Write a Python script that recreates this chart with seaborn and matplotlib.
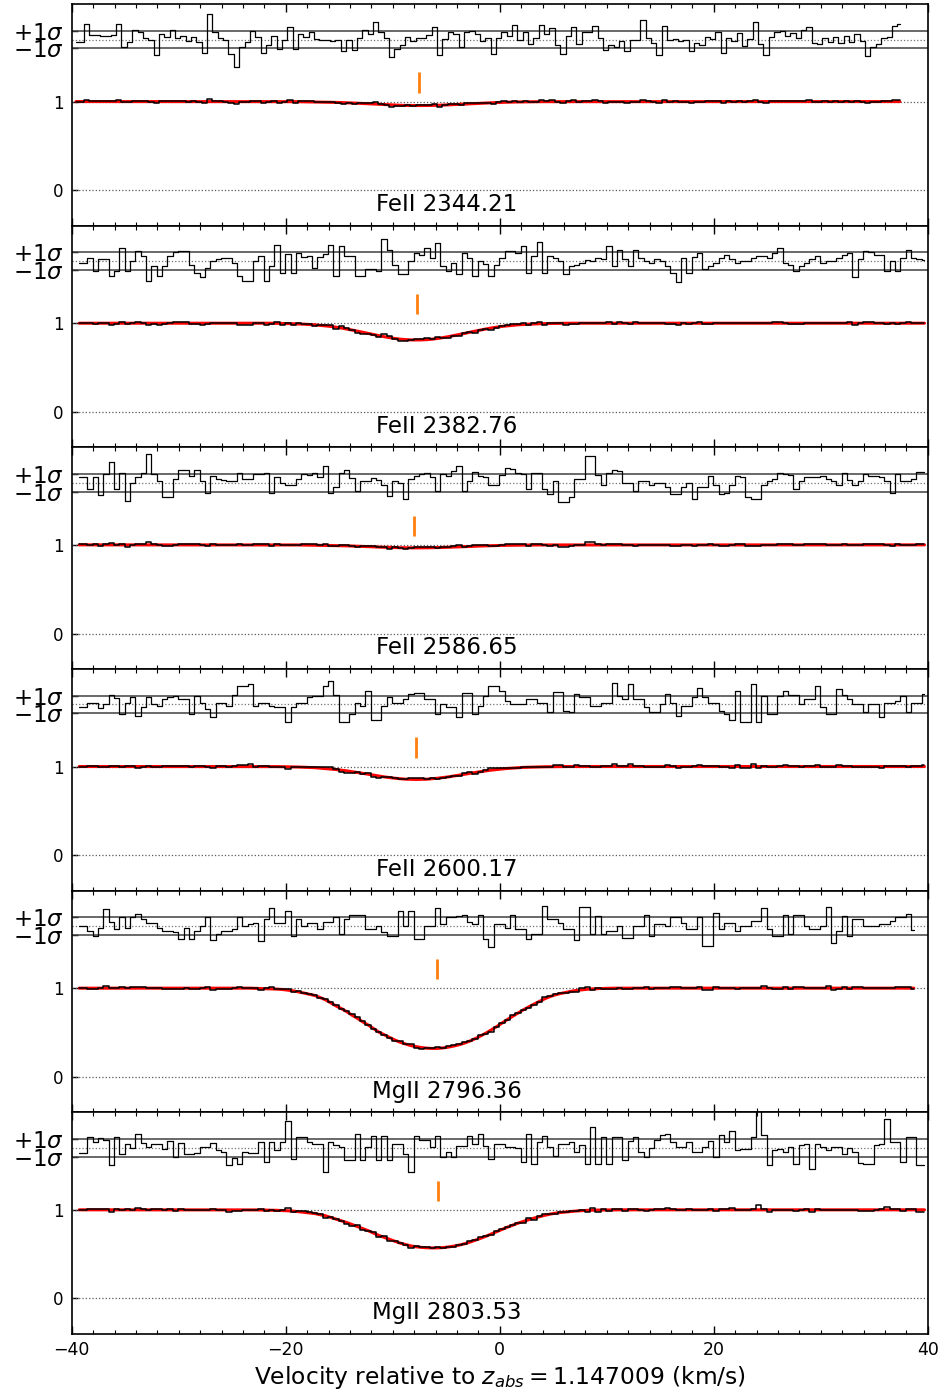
import numpy as np
import matplotlib
matplotlib.use("Agg")
import matplotlib.pyplot as plt
import seaborn as sns
from matplotlib.ticker import MultipleLocator

# pixel width of the spectra (km/s)
DV = 0.5

line_names = ["FeII 2344.21", "FeII 2382.76", "FeII 2586.65",
              "FeII 2600.17", "MgII 2796.36", "MgII 2803.53"]
# first pixel velocity of each spectrum
start_vel = [-39.6, -39.3, -39.3, -39.3, -39.3, -39.3]
# component velocity (orange tick)
comp_vel = [-7.5, -7.7, -8.0, -7.8, -5.9, -5.8]
# flux error per pixel (continuum units)
flux_err = [0.01, 0.01, 0.01, 0.01, 0.01, 0.01]

# residuals (flux - model) / error, read per pixel
fe2344_resid = [
    -0.3, -0.3, 1.8, 0.5, 0.5, 0.4, 0.4, 0.5, 1.7, -0.8,
    -0.3, 1.1, 0.9, 0.2, 0.0, -1.8, 0.6, 0.3, 1.1, 0.2,
    0.4, -0.2, 0.3, -0.3, -1.5, 2.9, 0.8, 0.2, 0.0, -1.6,
    -3.1, -0.9, -0.3, 1.0, 0.3, -1.5, -0.6, 0.4, -1.1, 0.0,
    1.4, -1.1, 0.6, 0.3, 0.8, 0.1, -0.1, -0.1, -0.2, -0.1,
    -1.3, 0.0, -1.2, 0.2, 1.1, 0.6, 2.0, 0.9, 0.2, -2.0,
    -1.1, -0.6, 0.3, -0.2, 0.2, 0.2, 0.5, 1.4, -1.7, 0.1,
    0.8, 0.6, -0.9, 0.9, 1.0, 0.6, -0.2, 0.2, -1.6, 0.2,
    0.9, 0.4, 1.6, 0.0, 0.8, -0.5, 0.2, 1.6, 0.6, 1.3,
    -0.6, -1.6, 0.4, 1.4, -0.5, 0.8, 0.8, 1.5, 0.2, -1.2,
    -0.6, -0.9, -0.2, -1.3, 0.0, -0.1, 2.2, 0.2, -0.4, -1.8,
    1.5, 0.0, 0.1, -0.2, 0.0, -1.3, -0.4, -0.6, 0.3, 0.1,
    0.8, -1.5, 0.2, -0.2, 0.7, -0.7, 0.1, 2.0, -0.5, -1.8,
    0.3, 0.8, 1.0, 0.4, 0.7, 0.2, 1.1, 1.4, -0.4, -0.5,
    0.2, -0.3, 0.3, -0.4, 0.4, -0.3, 0.6, -0.2, -1.9, -0.8,
    -0.5, 0.2, 0.3, 1.5, 1.8,
]
fe2382_resid = [
    -0.2, -0.2, 0.4, -1.1, 0.2, 0.2, -1.7, -1.1, 1.5, -1.1,
    0.0, 1.2, 0.6, -2.2, -0.6, -1.7, -0.6, 0.6, 1.0, 1.2,
    1.2, -0.4, -1.3, -1.8, -0.8, 0.0, 0.2, 0.4, 0.4, -0.2,
    -1.7, -2.2, -2.2, 0.0, 0.6, -2.2, -0.6, 1.8, -1.3, 0.8,
    -1.3, 0.9, 0.5, 0.6, -0.8, 0.5, 0.8, 1.8, -1.7, 1.7,
    0.6, 0.6, -1.7, -1.7, -0.9, -0.9, -1.1, 2.5, 1.3, -0.4,
    -1.5, -1.5, 0.0, 0.9, 0.7, 1.5, 0.4, 2.1, -0.6, -1.1,
    -0.2, -1.5, 0.9, 0.4, -1.7, 0.0, -0.3, -1.7, -0.4, 0.3,
    1.1, 1.2, 0.9, 1.7, -1.3, 0.6, 2.2, -1.3, 0.6, 0.3,
    0.0, -1.5, -0.6, -0.4, -0.2, 0.1, 0.0, 0.4, 0.2, 1.7,
    -0.6, 1.3, 0.2, -0.6, 1.3, 0.3, 0.0, -0.2, 0.2, 0.0,
    -0.6, -1.3, -2.4, 0.4, -1.3, 0.5, 0.9, -0.9, -0.5, -0.2,
    0.3, 0.7, 0.2, -0.2, 0.0, 0.0, 0.4, 0.6, 0.6, 0.3,
    0.9, 1.5, -0.2, -0.4, -1.1, -0.6, -0.2, 0.2, 0.6, -0.2,
    0.0, 0.0, 0.3, 0.7, 0.9, -1.8, 0.2, 1.1, 1.0, 0.7,
    0.7, -1.1, 0.0, -1.1, 0.4, 1.3, 0.3, 0.2, 0.1,
]
fe2586_resid = [
    0.6, 0.6, -0.7, 0.6, -1.4, 1.0, 2.4, -0.7, 1.1, -2.0,
    0.0, 0.6, 1.1, 3.3, 1.0, 0.2, -1.6, -1.6, 0.4, 1.5,
    1.5, 0.8, 1.5, 0.2, -1.2, 0.8, 0.4, 0.3, 0.2, 0.2,
    1.1, 0.4, 0.4, 1.0, 1.0, 1.1, -1.1, 0.6, 0.0, -0.2,
    -0.2, 0.4, 1.0, 0.9, 1.1, 0.7, 1.9, -1.1, -0.5, 1.1,
    1.5, 0.5, -0.9, 0.2, 0.2, 0.5, 0.3, -0.2, -1.5, 0.2,
    0.0, -1.8, 0.4, 0.8, 1.0, 1.1, 0.6, -0.9, 1.0, 0.8,
    1.3, 1.9, -0.9, 0.2, 1.2, 0.8, 0.6, -0.3, -0.3, 0.9,
    1.7, 1.6, 1.1, 1.0, -0.7, 1.1, 1.1, -0.7, -1.3, 0.2,
    -2.2, -2.2, -1.6, 0.4, 0.4, 3.0, 3.0, 0.9, -0.2, 1.1,
    1.4, 1.3, 0.0, 0.0, -0.9, 0.2, 0.2, -0.2, 0.0, 0.0,
    -0.5, -1.3, -1.3, -0.5, 0.0, -1.8, -0.5, -0.5, 0.8, -0.3,
    -1.3, -1.1, -0.2, 0.8, 0.7, -1.6, -1.8, -1.8, -0.3, 0.2,
    0.4, 1.1, 1.0, 0.9, -0.7, 0.2, 0.6, 0.6, 0.6, 0.8,
    0.4, 0.2, -0.2, 1.1, 0.3, -0.3, 0.2, 1.0, 0.8, 0.8,
    0.6, 0.2, -1.1, 1.0, 0.2, 0.2, 0.4, 1.2, 1.2,
]
fe2600_resid = [
    -0.3, -0.3, 0.2, 0.2, -0.4, 0.0, 1.1, 0.7, -1.1, 0.2,
    0.8, -1.3, -0.3, 0.8, 0.0, -0.2, 0.6, 0.8, 1.0, 0.6,
    0.6, -1.1, 1.0, 0.2, -0.5, -1.4, 0.2, 0.2, -0.2, 1.1,
    2.1, 2.1, 2.3, -0.2, 0.2, 0.2, -0.2, -0.3, -0.3, -2.0,
    -0.3, 0.2, 0.2, 0.8, 1.0, 1.0, 2.1, 2.6, 1.1, -2.0,
    -2.0, -1.1, 0.2, -0.2, 1.5, -1.8, -1.8, -0.2, 0.8, 0.2,
    0.2, 0.6, 1.2, 1.3, 1.3, 0.6, 0.6, -1.1, 0.0, -0.3,
    -0.3, -1.4, 1.3, 1.3, -1.1, -0.2, 1.0, 2.1, 2.1, 1.5,
    0.4, 0.0, 0.0, 0.0, 0.6, 0.6, 0.2, 0.2, -0.9, 1.4,
    1.4, -0.7, -0.9, 1.2, 0.8, 0.8, -0.2, -0.2, 0.2, 0.2,
    2.4, 1.0, 0.6, 2.3, 0.6, 0.6, -0.3, -0.9, -0.9, 0.0,
    1.2, 0.2, -1.3, -0.2, -0.2, 0.8, 1.9, 0.8, 0.2, 0.2,
    -0.7, -1.1, -1.8, 1.5, -2.0, -2.0, 2.3, -2.0, 1.0, -1.1,
    -1.1, 1.0, 1.5, 1.1, 1.1, 0.0, 0.6, 0.6, 2.1, -0.3,
    -1.1, -1.1, 1.7, 1.1, 0.6, 0.0, 0.0, -0.9, 0.0, 0.0,
    -1.4, 0.2, 0.2, 0.4, 1.0, -0.9, 0.2, 0.2, 1.2,
]
mg2796_resid = [
    0.0, 0.0, -0.5, -1.1, -0.2, 1.9, 0.5, -0.3, 1.0, -0.2,
    1.0, 1.4, 0.8, 0.4, 0.4, -0.2, -0.5, -0.5, -0.7, -1.4,
    -0.2, -1.4, -0.5, 0.0, 1.0, -1.6, -0.9, -0.5, -0.5, -0.3,
    1.0, 0.0, 0.2, 0.4, -1.7, 0.8, 2.0, 0.3, 0.3, 1.7,
    -1.1, 0.8, 0.0, 0.4, 0.4, -0.3, 0.5, 0.5, 1.0, -0.9,
    0.8, 1.3, 1.3, 1.3, -0.3, -0.3, 0.0, -0.7, -1.1, -1.1,
    1.7, 0.0, 1.7, -1.4, -1.4, 0.0, 0.0, 2.0, 0.2, 1.0,
    1.0, 1.1, 1.3, 0.5, 0.2, 1.3, -1.4, -2.4, 0.2, 0.2,
    -0.2, 1.3, -0.3, -0.3, -1.4, -0.9, -0.9, 2.3, 0.8, 0.8,
    0.4, -0.3, -0.3, -1.6, 2.1, 2.1, -0.9, 1.1, -0.9, -0.5,
    -0.5, 0.0, -1.3, -1.3, 0.0, 0.0, 1.2, -1.1, 0.2, 0.2,
    0.0, 1.0, 1.0, 0.4, -0.3, -0.3, 1.0, -2.2, -2.2, 1.5,
    -0.3, 0.4, 0.4, -0.5, 0.0, 0.0, 0.6, 0.6, 2.0, -0.3,
    -1.1, -1.1, 1.3, -0.9, 1.3, 1.3, 0.0, -0.3, -0.3, 0.0,
    2.1, -1.9, -0.5, 1.1, -1.1, 0.8, 0.8, 0.0, 0.0, 0.0,
    0.2, 0.2, 0.6, 1.0, 1.0, 1.4, -0.4,
]
mg2803_resid = [
    -0.6, -0.6, 1.2, 0.6, 1.1, 0.9, -2.0, 1.2, -0.7, 0.4,
    0.0, 1.5, 0.5, 0.1, 0.4, 0.4, -0.1, 0.8, -1.0, 0.5,
    -0.7, -0.7, -0.6, 0.1, 0.1, 0.5, -0.3, -0.5, -2.0, -1.2,
    -1.8, -0.5, -0.6, -0.6, 0.7, -1.6, 0.7, -0.3, 0.6, 3.0,
    -1.3, 1.2, 1.2, 0.7, 0.4, 0.4, -2.7, 0.7, 0.3, 0.1,
    -1.4, -1.4, 1.6, -1.4, 0.1, 1.3, -1.4, 1.3, -1.4, 0.4,
    0.4, -0.7, -2.7, 1.3, 0.9, 0.9, 0.1, 1.3, -1.0, -0.5,
    -1.0, 0.2, 0.2, 1.3, 0.4, 1.5, 0.2, -1.3, 0.4, 0.4,
    0.1, 0.1, 0.0, -1.6, 1.5, -1.8, 0.6, 1.3, 0.1, -0.9,
    0.4, 0.4, 0.6, -0.5, 0.3, -1.8, 2.3, -1.8, 1.2, -1.8,
    1.2, 1.2, -1.4, 0.8, 1.2, -0.5, -1.0, 0.0, 0.9, 1.4,
    1.5, 0.6, 0.1, 0.1, 0.6, -0.5, -0.5, 0.1, 0.8, -1.0,
    1.4, 0.6, 1.9, -0.2, -0.1, -0.1, 1.2, 5.0, 1.4, -2.0,
    -0.3, -0.1, -0.5, 0.1, -1.8, 0.3, 0.4, -2.4, 0.4, 0.1,
    -0.3, 0.1, 0.1, -0.7, 0.0, -0.5, -1.7, -1.8, -1.8, 0.3,
    0.4, 3.2, 0.6, 0.7, -1.6, 1.2, 1.2, -2.0, -2.0,
]

# model profiles: half profiles from line centre outwards (every pixel)
fe2344_half = [0.955, 0.955, 0.956, 0.957, 0.959, 0.961, 0.964, 0.967, 0.970,
               0.973, 0.977, 0.980, 0.983, 0.986, 0.988, 0.990, 0.992, 0.994,
               0.995, 0.996, 0.997, 0.998, 0.998, 0.999, 0.999, 1.000, 1.000]
fe2382_half = [0.811, 0.812, 0.815, 0.820, 0.828, 0.838, 0.848, 0.860, 0.873,
               0.885, 0.898, 0.911, 0.923, 0.935, 0.946, 0.955, 0.964, 0.970,
               0.976, 0.982, 0.986, 0.989, 0.992, 0.994, 0.996, 0.997, 0.998]
fe2586_half = [0.966, 0.966, 0.967, 0.968, 0.969, 0.971, 0.973, 0.975, 0.977,
               0.980, 0.982, 0.985, 0.987, 0.989, 0.991, 0.993, 0.994, 0.995,
               0.996, 0.997, 0.998, 0.998, 0.999, 0.999, 1.000, 1.000, 1.000]
fe2600_half = [0.854, 0.855, 0.857, 0.862, 0.868, 0.875, 0.883, 0.893, 0.903,
               0.913, 0.923, 0.932, 0.942, 0.951, 0.959, 0.966, 0.972, 0.978,
               0.982, 0.987, 0.990, 0.992, 0.994, 0.996, 0.997, 0.998, 0.999]
# MgII profiles, full troughs from -23.3 km/s
mg2796_trough = [
    1.000, 0.998, 0.997, 0.995, 0.992, 0.989, 0.985, 0.978, 0.970, 0.958,
    0.945, 0.932, 0.918, 0.895, 0.870, 0.835, 0.800, 0.770, 0.735, 0.695,
    0.660, 0.620, 0.585, 0.545, 0.505, 0.475, 0.445, 0.415, 0.390, 0.370,
    0.352, 0.340, 0.330, 0.323, 0.320, 0.321, 0.326, 0.335, 0.347, 0.362,
    0.380, 0.403, 0.430, 0.460, 0.492, 0.528, 0.565, 0.605, 0.645, 0.682,
    0.720, 0.755, 0.788, 0.820, 0.850, 0.880, 0.905, 0.925, 0.940, 0.953,
    0.965, 0.975, 0.982, 0.988, 0.992, 0.995, 0.997,
]
mg2803_trough = [
    1.000, 0.999, 0.998, 0.997, 0.996, 0.994, 0.992, 0.989, 0.985, 0.979,
    0.972, 0.965, 0.958, 0.946, 0.933, 0.914, 0.894, 0.877, 0.857, 0.834,
    0.812, 0.787, 0.765, 0.738, 0.711, 0.689, 0.667, 0.644, 0.624, 0.608,
    0.593, 0.583, 0.576, 0.572, 0.570, 0.571, 0.574, 0.581, 0.590, 0.602,
    0.616, 0.635, 0.656, 0.678, 0.701, 0.727, 0.752, 0.778, 0.803, 0.826,
    0.849, 0.869, 0.888, 0.906, 0.922, 0.938, 0.951, 0.962, 0.970, 0.976,
    0.982, 0.987, 0.991, 0.994, 0.996, 0.997, 0.998,
]
# velocity of the first trough pixel
trough_start = [-20.6, -20.8, -20.8, -20.8, -23.3, -23.3]


def mirror(half):
    return half[::-1] + half[1:]


residuals = [fe2344_resid, fe2382_resid, fe2586_resid,
             fe2600_resid, mg2796_resid, mg2803_resid]
troughs = [mirror(fe2344_half), mirror(fe2382_half), mirror(fe2586_half),
           mirror(fe2600_half), mg2796_trough, mg2803_trough]

sns.set_theme(style="ticks", rc={
    "axes.edgecolor": "black", "axes.linewidth": 1.2,
    "text.color": "black", "axes.labelcolor": "black",
    "xtick.color": "black", "ytick.color": "black",
})
plt.rcParams["font.family"] = ["DejaVu Sans"]
plt.rcParams["mathtext.fontset"] = "dejavusans"

fig, axes = plt.subplots(6, 1, sharex=True, figsize=(9.51, 13.93), dpi=100)
fig.subplots_adjust(left=0.0754, right=0.9755, top=0.9971, bottom=0.0424, hspace=0)

for k, ax in enumerate(axes):
    resid = np.array(residuals[k])
    vel = start_vel[k] + DV * np.arange(len(resid))
    model = np.ones(len(vel))
    i0 = int(round((trough_start[k] - start_vel[k]) / DV))
    model[i0:i0 + len(troughs[k])] = troughs[k]
    flux = model + resid * flux_err[k]

    ax.axhline(1.8, color="0.25", lw=1.1, zorder=1)
    ax.axhline(1.6, color="0.25", lw=1.1, zorder=1)
    ax.axhline(1.7, color="0.45", lw=0.9, ls=":", zorder=1)
    ax.axhline(1.0, color="0.35", lw=0.9, ls=":", zorder=1)
    ax.axhline(0.0, color="0.35", lw=0.9, ls=":", zorder=1)

    sns.lineplot(x=vel, y=model, ax=ax, color="red", lw=2.2, errorbar=None, zorder=2)
    sns.lineplot(x=vel, y=flux, ax=ax, color="black", lw=1.1,
                 drawstyle="steps-mid", errorbar=None, zorder=3)
    sns.lineplot(x=vel, y=1.7 + 0.1 * resid, ax=ax, color="black", lw=0.9,
                 drawstyle="steps-mid", errorbar=None, zorder=3)

    ax.vlines(comp_vel[k], 1.1, 1.33, color="#ff7f0e", lw=2, zorder=4)
    ax.text(0.438, 0.095, line_names[k], transform=ax.transAxes,
            ha="center", va="center", fontsize=16.5)

    ax.set_xlim(-40, 40)
    ax.set_ylim(-0.4, 2.1)
    ax.set_yticks([0, 1, 1.6, 1.8])
    ax.set_yticklabels(["0", "1", r"$-1\sigma$", r"$+1\sigma$"])
    ax.tick_params(axis="y", direction="in", length=4, width=1, pad=6, labelsize=12)
    for lab in ax.get_yticklabels()[2:]:
        lab.set_fontsize(16.5)
    ax.xaxis.set_major_locator(MultipleLocator(20))
    ax.xaxis.set_minor_locator(MultipleLocator(2))
    ax.tick_params(axis="x", which="both", direction="in", top=True, bottom=True)
    ax.tick_params(axis="x", which="major", length=5.5, width=1, pad=5, labelsize=12.5)
    ax.tick_params(axis="x", which="minor", length=3, width=0.8)
    ax.set_ylabel("")

axes[-1].set_xlabel(r"Velocity relative to $z_{abs} = 1.147009$ (km/s)", fontsize=16.8)

fig.savefig("out.png", dpi=100)
